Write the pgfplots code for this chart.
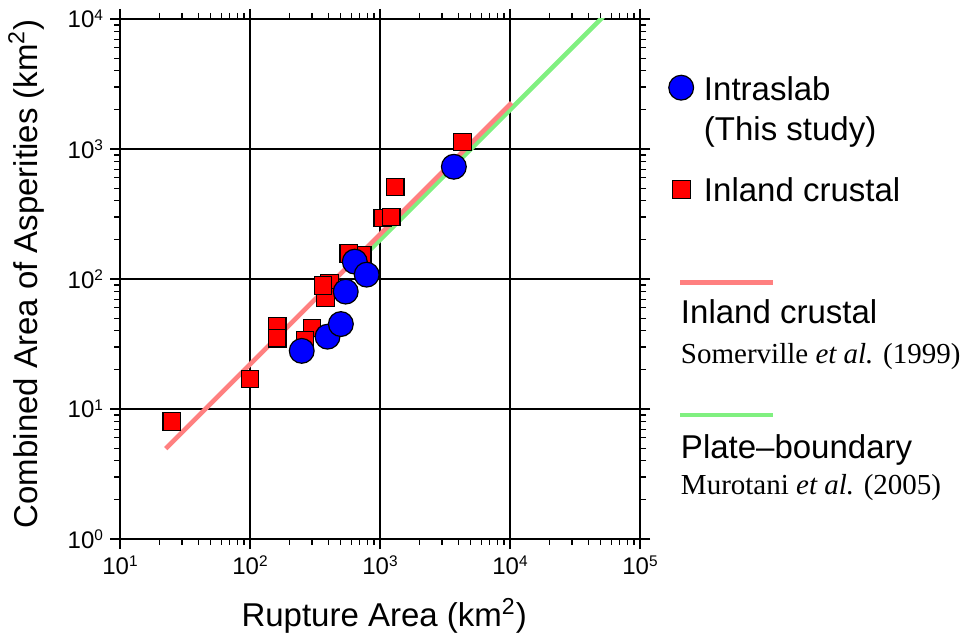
\documentclass[border=0pt]{standalone}
\usepackage{fontspec}
\setmainfont{Liberation Sans}
\newfontfamily\serif{Liberation Serif}
\usepackage{pgfplots}
\pgfplotsset{compat=1.18}

\definecolor{linered}{HTML}{FF8080}
\definecolor{linegreen}{HTML}{80F080}

\newcommand{\lab}{\fontsize{16.5}{19.8}\selectfont}
\newcommand{\tl}[1]{10\raisebox{3.8pt}{\fontsize{7.7}{9}\selectfont #1}}

% legend keys: marks beside the text, lines above it
% (the image cell sits left of the text column, hence the x offsets)
\pgfplotsset{
  markleg/.style={legend image code/.code={\path (0,0);
      \draw[overlay,##1] plot coordinates {(#1)};}},
  lineleg/.style={legend image code/.code={\path (0,0);
      \draw[overlay,##1] (65.75pt,#1) -- (112.25pt,#1);}},
}

\begin{document}
\begin{tikzpicture}
\begin{axis}[
  scale only axis, width=260pt, height=260pt,
  xmode=log, ymode=log,
  xmin=10, xmax=100000, ymin=1, ymax=10000,
  xtick={10,100,1000,10000,100000},
  xticklabels={\tl{1},\tl{2},\tl{3},\tl{4},\tl{5}},
  ytick={1,10,100,1000,10000},
  yticklabels={\tl{0},\tl{1},\tl{2},\tl{3},\tl{4}},
  minor xtick={20,30,40,50,60,70,80,90,200,300,400,500,600,700,800,900,2000,3000,4000,5000,6000,7000,8000,9000,20000,30000,40000,50000,60000,70000,80000,90000},
  minor ytick={2,3,4,5,6,7,8,9,20,30,40,50,60,70,80,90,200,300,400,500,600,700,800,900,2000,3000,4000,5000,6000,7000,8000,9000},
  tick align=outside,
  major tick length=5pt, minor tick length=3pt,
  tick style={black, line width=0.6pt},
  tick label style={font=\fontsize{12}{14}\selectfont},
  axis line style={line width=1pt},
  grid=major,
  major grid style={black, line width=0.6pt},
  xlabel={Rupture Area (km\textsuperscript{2})},
  ylabel={Combined Area of Asperities (km\textsuperscript{2})},
  xlabel style={font=\lab, at={(axis description cs:0.508,-0.1692)}, anchor=base},
  ylabel style={font=\lab, at={(axis description cs:-0.1596,0.51)}, anchor=base},
  legend style={draw=none, fill=none, inner sep=0pt, column sep=0pt, row sep=0pt,
    at={(axis description cs:1.0692,0.8452)}, anchor=north west,
    cells={anchor=base west}, nodes={inner sep=0pt, text depth=, font=\lab}},
  reverse legend,
]
% Murotani et al. (2005)
\addplot[linegreen, line width=2.3pt, lineleg=22pt]
  coordinates {(800,160) (52000,10400)};
\addlegendentry{\raisebox{0pt}[0pt][20pt]{\vtop{\baselineskip=18pt
  \hbox{Plate–boundary}\hbox{\fontsize{14.5}{17}\serif Murotani \textit{et al.} (2005)}}}}
% Somerville et al. (1999)
\addplot[linered, line width=2.3pt, lineleg=20.5pt]
  coordinates {(22.5,4.95) (10300,2266)};
\addlegendentry{\raisebox{0pt}[0pt][66.5pt]{\vtop{\baselineskip=20pt
  \hbox{Inland crustal}\hbox{\fontsize{14.5}{17}\serif Somerville \textit{et al.} (1999)}}}}
% inland crustal events
\addplot[only marks, mark=square*, mark size=4.4pt,
  mark options={fill=red, draw=black, line width=0.6pt}, markleg={66.35pt,5.85pt}]
  coordinates {(25,8) (100,17) (162,43) (162,35) (300,42) (265,34)
    (410,93) (380,72) (365,89) (730,152) (575,157)
    (1050,295) (1220,300) (1310,510) (4300,1130)};
\addlegendentry{\raisebox{0pt}[0pt][60pt]{\kern11.5pt Inland crustal}}
% intraslab events
\addplot[only marks, mark=*, mark size=6.2pt,
  mark options={fill=blue, draw=black, line width=0.6pt}, markleg={66.25pt,6.3pt}]
  coordinates {(250,28) (395,36) (500,45) (545,80) (640,136) (790,108) (3700,730)};
\addlegendentry{\raisebox{0pt}[0pt][50.35pt]{\kern11.5pt\vtop{\baselineskip=20.35pt
  \hbox{Intraslab}\hbox{(This study)}}}}
\end{axis}
\pgfresetboundingbox
\path ([xshift=-60pt,yshift=-50pt]current axis.south west)
  rectangle ([xshift=163pt,yshift=9.5pt]current axis.north east);
\end{tikzpicture}
\end{document}
